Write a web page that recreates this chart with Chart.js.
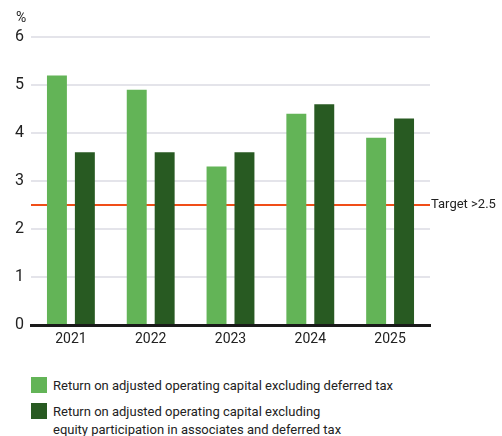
<!DOCTYPE html>
<html>
<head>
<meta charset="utf-8">
<script src="https://cdn.jsdelivr.net/npm/chart.js@4/dist/chart.umd.min.js"></script>
<style>
  html, body { margin: 0; padding: 0; background: #fff; }
  #wrap { position: relative; width: 502px; height: 436px; font-family: "Roboto", "DejaVu Sans", sans-serif; color: #222; }
  #chart { position: absolute; left: 0; top: 0; }
  #legend { position: absolute; left: 31px; top: 377px; font-size: 13px; line-height: 18px; }
  .item { display: flex; align-items: flex-start; margin-bottom: 8px; }
  .sw { width: 16px; height: 16px; flex: none; margin-right: 6px; margin-top: 0px; }
</style>
</head>
<body>
<div id="wrap">
  <canvas id="chart" width="502" height="360"></canvas>
  <div id="legend"></div>
</div>
<script>
// Years on the category axis
const years = ['2021', '2022', '2023', '2024', '2025'];
// Return on adjusted operating capital excluding deferred tax (%)
const returnExDeferredTax = [5.2, 4.9, 3.3, 4.4, 3.9];
// Return excluding equity participation in associates and deferred tax (%)
const returnExAssociates = [3.6, 3.6, 3.6, 4.6, 4.3];
// Target level and its label
const targetValue = 2.5;
const targetLabel = 'Target >2.5';
// Y-axis range and unit
const yTicks = [0, 1, 2, 3, 4, 5, 6];
const unitLabel = '%';

const seriesNames = [
  ['Return on adjusted operating capital excluding deferred tax'],
  ['Return on adjusted operating capital excluding', 'equity participation in associates and deferred tax']
];
const seriesColors = ['#63b457', '#285a22'];

const FONT = '"Roboto", "DejaVu Sans", sans-serif';

// Target line drawn beneath the bars, with its label to the right
const targetPlugin = {
  id: 'target',
  beforeDatasetsDraw(chart) {
    const { ctx, chartArea, scales } = chart;
    const y = Math.round(scales.y.getPixelForValue(targetValue));
    ctx.save();
    ctx.strokeStyle = '#f04e18';
    ctx.lineWidth = 2;
    ctx.beginPath();
    ctx.moveTo(chartArea.left, y);
    ctx.lineTo(chartArea.right, y);
    ctx.stroke();
    ctx.restore();
  },
  afterDraw(chart) {
    const { ctx, chartArea, scales } = chart;
    const y = scales.y.getPixelForValue(targetValue);
    ctx.save();
    ctx.fillStyle = '#222';
    ctx.font = '13px ' + FONT;
    ctx.textBaseline = 'middle';
    ctx.textAlign = 'left';
    ctx.fillText(targetLabel, chartArea.right + 1, y);
    // unit above the y axis
    ctx.font = '14px ' + FONT;
    ctx.fillText(unitLabel, 16, 18);
    ctx.restore();
  }
};

new Chart(document.getElementById('chart'), {
  type: 'bar',
  data: {
    labels: years,
    datasets: [
      { label: seriesNames[0].join(' '), data: returnExDeferredTax, backgroundColor: seriesColors[0] },
      { label: seriesNames[1].join(' '), data: returnExAssociates, backgroundColor: seriesColors[1] }
    ]
  },
  options: {
    responsive: false,
    animation: false,
    layout: { padding: { top: 37, right: 72, left: 0, bottom: 0 } },
    datasets: { bar: { categoryPercentage: 0.7, barPercentage: 0.714 } },
    plugins: { legend: { display: false }, tooltip: { enabled: false } },
    scales: {
      x: {
        grid: { display: false, drawTicks: false },
        border: { display: true, color: '#1a1a1a', width: 3 },
        ticks: { color: '#222', font: { family: FONT, size: 14 }, padding: 6 },
        afterFit(s) { s.height = 35; }
      },
      y: {
        min: yTicks[0],
        max: yTicks[yTicks.length - 1],
        afterBuildTicks(s) { s.ticks = yTicks.map(v => ({ value: v })); },
        grid: {
          drawTicks: false,
          color: ctx => ctx.tick && ctx.tick.value === 0 ? 'rgba(0,0,0,0)' : '#e4e4ea',
          lineWidth: 2
        },
        border: { display: false },
        ticks: { color: '#222', font: { family: FONT, size: 16 }, padding: 7 },
        afterFit(s) { s.width = 31; }
      }
    }
  },
  plugins: [targetPlugin]
});

// Legend below the chart
const legend = document.getElementById('legend');
seriesNames.forEach((lines, i) => {
  const item = document.createElement('div');
  item.className = 'item';
  const sw = document.createElement('div');
  sw.className = 'sw';
  sw.style.background = seriesColors[i];
  const txt = document.createElement('div');
  txt.innerHTML = lines.join('<br>');
  item.appendChild(sw);
  item.appendChild(txt);
  legend.appendChild(item);
});
</script>
</body>
</html>
